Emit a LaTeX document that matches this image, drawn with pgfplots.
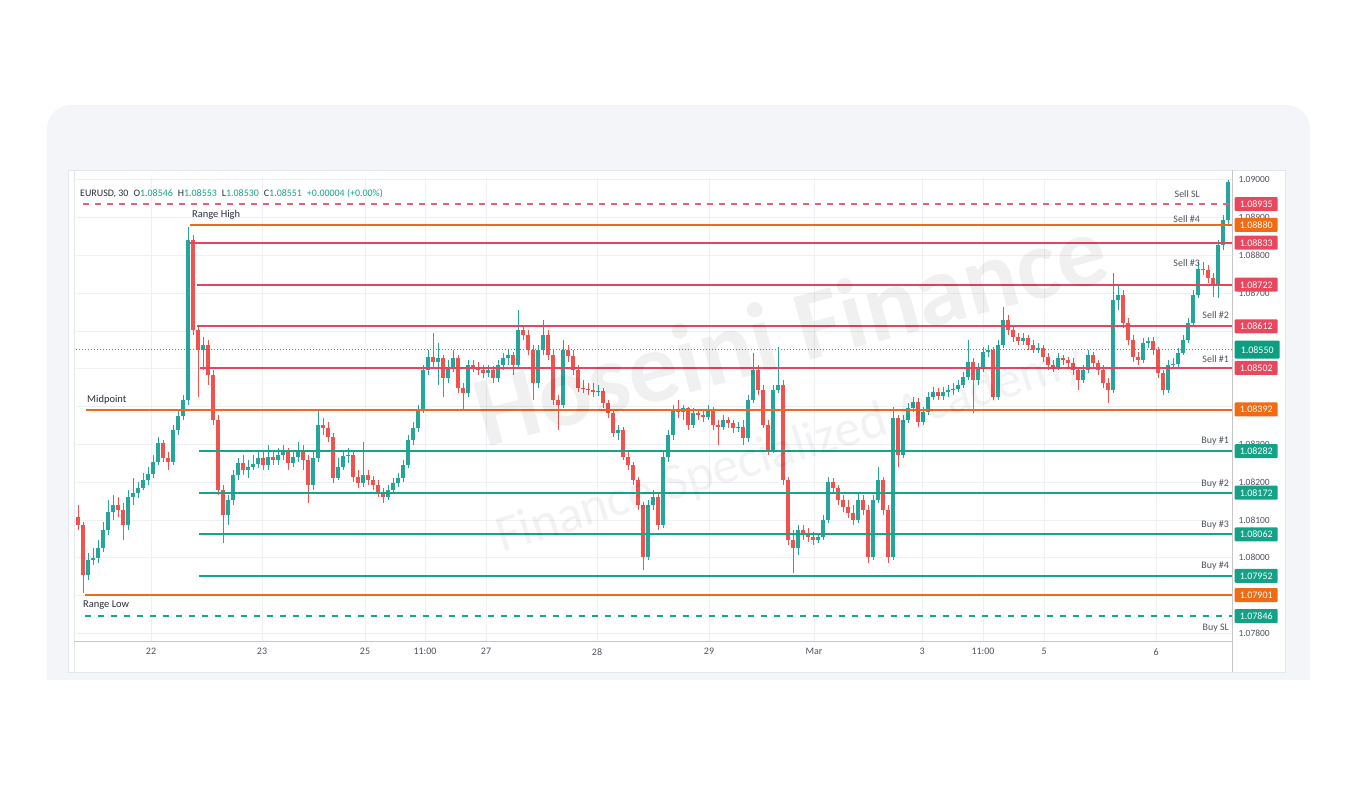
\documentclass[border=0pt]{standalone}
\usepackage{fontspec}
\setmainfont{Carlito}
\usepackage{pgfplots}
\pgfplotsset{compat=1.18}
\usepackage{pgfplotstable}
\definecolor{upc}{HTML}{26A69A}
\definecolor{dnc}{HTML}{EF5350}
\definecolor{lred}{HTML}{E4465E}
\definecolor{lorange}{HTML}{EE6A1A}
\definecolor{lteal}{HTML}{17A489}
\definecolor{bred}{HTML}{E9475E}
\definecolor{borange}{HTML}{F26B12}
\definecolor{bteal}{HTML}{14A286}
\definecolor{bcur}{HTML}{0C9E80}
\definecolor{panel}{HTML}{F3F5F8}
\definecolor{cardline}{HTML}{E3E6EC}
\definecolor{gridc}{HTML}{EEF0F4}
\definecolor{txt}{HTML}{2A2E39}
\definecolor{ticktxt}{HTML}{50535E}
\definecolor{hdr}{HTML}{17A489}

\pgfplotstableread{
t o h l c
0 1.08108 1.08140 1.08073 1.08087
1 1.08087 1.08095 1.07907 1.07955
2 1.07955 1.08013 1.07941 1.07994
3 1.07994 1.08026 1.07981 1.07999
4 1.07999 1.08047 1.07986 1.08026
5 1.08026 1.08095 1.08015 1.08073
6 1.08073 1.08153 1.08060 1.08121
7 1.08121 1.08166 1.08100 1.08140
8 1.08140 1.08161 1.08108 1.08126
9 1.08126 1.08145 1.08047 1.08087
10 1.08087 1.08179 1.08073 1.08161
11 1.08161 1.08211 1.08140 1.08171
12 1.08171 1.08200 1.08158 1.08185
13 1.08185 1.08224 1.08179 1.08206
14 1.08206 1.08240 1.08192 1.08222
15 1.08222 1.08272 1.08211 1.08253
16 1.08253 1.08320 1.08245 1.08304
17 1.08304 1.08311 1.08253 1.08264
18 1.08264 1.08280 1.08232 1.08253
19 1.08253 1.08351 1.08245 1.08338
20 1.08338 1.08391 1.08325 1.08375
21 1.08375 1.08430 1.08364 1.08417
22 1.08417 1.08874 1.08404 1.08840
23 1.08840 1.08853 1.08589 1.08602
24 1.08602 1.08615 1.08425 1.08549
25 1.08549 1.08584 1.08496 1.08563
26 1.08563 1.08576 1.08457 1.08483
27 1.08483 1.08496 1.08351 1.08364
28 1.08364 1.08378 1.08166 1.08179
29 1.08179 1.08192 1.08039 1.08113
30 1.08113 1.08166 1.08087 1.08153
31 1.08153 1.08232 1.08140 1.08219
32 1.08219 1.08264 1.08206 1.08251
33 1.08251 1.08272 1.08219 1.08232
34 1.08232 1.08258 1.08211 1.08240
35 1.08240 1.08272 1.08232 1.08248
36 1.08248 1.08280 1.08237 1.08264
37 1.08264 1.08285 1.08232 1.08245
38 1.08245 1.08298 1.08232 1.08266
39 1.08266 1.08285 1.08245 1.08258
40 1.08258 1.08290 1.08245 1.08272
41 1.08272 1.08298 1.08258 1.08280
42 1.08280 1.08290 1.08232 1.08251
43 1.08251 1.08285 1.08240 1.08266
44 1.08266 1.08306 1.08253 1.08285
45 1.08285 1.08298 1.08232 1.08258
46 1.08258 1.08272 1.08145 1.08192
47 1.08192 1.08280 1.08179 1.08264
48 1.08264 1.08391 1.08253 1.08351
49 1.08351 1.08370 1.08325 1.08343
50 1.08343 1.08359 1.08306 1.08320
51 1.08320 1.08330 1.08198 1.08211
52 1.08211 1.08264 1.08206 1.08240
53 1.08240 1.08285 1.08232 1.08269
54 1.08269 1.08290 1.08251 1.08272
55 1.08272 1.08285 1.08200 1.08214
56 1.08214 1.08232 1.08185 1.08198
57 1.08198 1.08306 1.08187 1.08219
58 1.08219 1.08232 1.08192 1.08206
59 1.08206 1.08216 1.08179 1.08192
60 1.08192 1.08206 1.08161 1.08171
61 1.08171 1.08185 1.08145 1.08161
62 1.08161 1.08192 1.08153 1.08179
63 1.08179 1.08211 1.08171 1.08198
64 1.08198 1.08224 1.08187 1.08211
65 1.08211 1.08258 1.08200 1.08245
66 1.08245 1.08325 1.08237 1.08311
67 1.08311 1.08359 1.08298 1.08343
68 1.08343 1.08404 1.08333 1.08391
69 1.08391 1.08510 1.08383 1.08496
70 1.08496 1.08549 1.08483 1.08531
71 1.08531 1.08594 1.08504 1.08518
72 1.08518 1.08568 1.08457 1.08528
73 1.08528 1.08536 1.08425 1.08475
74 1.08475 1.08523 1.08462 1.08504
75 1.08504 1.08549 1.08491 1.08528
76 1.08528 1.08536 1.08436 1.08449
77 1.08449 1.08462 1.08391 1.08436
78 1.08436 1.08523 1.08425 1.08510
79 1.08510 1.08523 1.08491 1.08504
80 1.08504 1.08518 1.08483 1.08496
81 1.08496 1.08510 1.08475 1.08488
82 1.08488 1.08510 1.08478 1.08496
83 1.08496 1.08507 1.08462 1.08475
84 1.08475 1.08523 1.08465 1.08510
85 1.08510 1.08541 1.08496 1.08528
86 1.08528 1.08549 1.08510 1.08536
87 1.08536 1.08544 1.08483 1.08510
88 1.08510 1.08655 1.08502 1.08602
89 1.08602 1.08615 1.08576 1.08589
90 1.08589 1.08602 1.08536 1.08549
91 1.08549 1.08563 1.08417 1.08462
92 1.08462 1.08563 1.08449 1.08549
93 1.08549 1.08628 1.08536 1.08589
94 1.08589 1.08602 1.08523 1.08536
95 1.08536 1.08549 1.08404 1.08417
96 1.08417 1.08430 1.08338 1.08404
97 1.08404 1.08576 1.08396 1.08549
98 1.08549 1.08563 1.08518 1.08534
99 1.08534 1.08549 1.08483 1.08496
100 1.08496 1.08510 1.08438 1.08449
101 1.08449 1.08470 1.08436 1.08447
102 1.08447 1.08462 1.08430 1.08443
103 1.08443 1.08462 1.08425 1.08438
104 1.08438 1.08457 1.08428 1.08441
105 1.08441 1.08449 1.08396 1.08409
106 1.08409 1.08417 1.08370 1.08383
107 1.08383 1.08391 1.08320 1.08330
108 1.08330 1.08351 1.08311 1.08338
109 1.08338 1.08346 1.08258 1.08266
110 1.08266 1.08280 1.08232 1.08245
111 1.08245 1.08253 1.08192 1.08206
112 1.08206 1.08214 1.08126 1.08140
113 1.08140 1.08147 1.07968 1.08002
114 1.08002 1.08153 1.07994 1.08140
115 1.08140 1.08179 1.08126 1.08161
116 1.08161 1.08171 1.08073 1.08087
117 1.08087 1.08285 1.08079 1.08266
118 1.08266 1.08338 1.08253 1.08325
119 1.08325 1.08404 1.08311 1.08391
120 1.08391 1.08417 1.08370 1.08385
121 1.08385 1.08404 1.08364 1.08396
122 1.08396 1.08399 1.08338 1.08351
123 1.08351 1.08396 1.08343 1.08383
124 1.08383 1.08391 1.08364 1.08378
125 1.08378 1.08391 1.08359 1.08372
126 1.08372 1.08404 1.08364 1.08391
127 1.08391 1.08399 1.08338 1.08351
128 1.08351 1.08364 1.08298 1.08346
129 1.08346 1.08378 1.08338 1.08364
130 1.08364 1.08372 1.08343 1.08356
131 1.08356 1.08364 1.08330 1.08343
132 1.08343 1.08359 1.08333 1.08346
133 1.08346 1.08364 1.08298 1.08317
134 1.08317 1.08430 1.08306 1.08417
135 1.08417 1.08541 1.08409 1.08496
136 1.08496 1.08510 1.08430 1.08443
137 1.08443 1.08457 1.08343 1.08351
138 1.08351 1.08364 1.08272 1.08285
139 1.08285 1.08457 1.08277 1.08443
140 1.08443 1.08558 1.08436 1.08457
141 1.08457 1.08470 1.08192 1.08206
142 1.08206 1.08214 1.08034 1.08047
143 1.08047 1.08073 1.07960 1.08026
144 1.08026 1.08087 1.08007 1.08073
145 1.08073 1.08087 1.08047 1.08066
146 1.08066 1.08079 1.08042 1.08055
147 1.08055 1.08068 1.08034 1.08047
148 1.08047 1.08066 1.08039 1.08055
149 1.08055 1.08113 1.08047 1.08100
150 1.08100 1.08214 1.08092 1.08200
151 1.08200 1.08211 1.08174 1.08185
152 1.08185 1.08192 1.08140 1.08153
153 1.08153 1.08166 1.08121 1.08134
154 1.08134 1.08153 1.08105 1.08118
155 1.08118 1.08140 1.08087 1.08100
156 1.08100 1.08171 1.08092 1.08153
157 1.08153 1.08166 1.08113 1.08126
158 1.08126 1.08140 1.07986 1.08002
159 1.08002 1.08166 1.07994 1.08153
160 1.08153 1.08240 1.08145 1.08206
161 1.08206 1.08214 1.08113 1.08126
162 1.08126 1.08140 1.07986 1.08002
163 1.08002 1.08399 1.07994 1.08370
164 1.08370 1.08378 1.08240 1.08272
165 1.08272 1.08378 1.08264 1.08364
166 1.08364 1.08409 1.08356 1.08396
167 1.08396 1.08425 1.08385 1.08412
168 1.08412 1.08422 1.08346 1.08359
169 1.08359 1.08399 1.08351 1.08385
170 1.08385 1.08438 1.08378 1.08425
171 1.08425 1.08452 1.08417 1.08438
172 1.08438 1.08449 1.08417 1.08428
173 1.08428 1.08452 1.08417 1.08438
174 1.08438 1.08457 1.08425 1.08443
175 1.08443 1.08462 1.08430 1.08447
176 1.08447 1.08470 1.08438 1.08457
177 1.08457 1.08491 1.08449 1.08478
178 1.08478 1.08576 1.08470 1.08518
179 1.08518 1.08528 1.08383 1.08470
180 1.08470 1.08515 1.08457 1.08502
181 1.08502 1.08558 1.08491 1.08544
182 1.08544 1.08563 1.08531 1.08549
183 1.08549 1.08558 1.08417 1.08425
184 1.08425 1.08576 1.08417 1.08563
185 1.08563 1.08663 1.08555 1.08628
186 1.08628 1.08642 1.08589 1.08602
187 1.08602 1.08615 1.08570 1.08584
188 1.08584 1.08594 1.08563 1.08573
189 1.08573 1.08594 1.08563 1.08581
190 1.08581 1.08589 1.08549 1.08563
191 1.08563 1.08576 1.08541 1.08549
192 1.08549 1.08568 1.08541 1.08555
193 1.08555 1.08563 1.08518 1.08531
194 1.08531 1.08541 1.08496 1.08510
195 1.08510 1.08523 1.08491 1.08504
196 1.08504 1.08541 1.08496 1.08528
197 1.08528 1.08536 1.08510 1.08523
198 1.08523 1.08531 1.08502 1.08515
199 1.08515 1.08528 1.08483 1.08496
200 1.08496 1.08504 1.08443 1.08470
201 1.08470 1.08510 1.08462 1.08496
202 1.08496 1.08549 1.08488 1.08536
203 1.08536 1.08544 1.08502 1.08515
204 1.08515 1.08523 1.08483 1.08496
205 1.08496 1.08510 1.08449 1.08462
206 1.08462 1.08475 1.08409 1.08443
207 1.08443 1.08753 1.08436 1.08681
208 1.08681 1.08722 1.08655 1.08695
209 1.08695 1.08708 1.08607 1.08621
210 1.08621 1.08634 1.08563 1.08576
211 1.08576 1.08589 1.08518 1.08531
212 1.08531 1.08544 1.08510 1.08523
213 1.08523 1.08581 1.08515 1.08568
214 1.08568 1.08584 1.08555 1.08573
215 1.08573 1.08584 1.08536 1.08549
216 1.08549 1.08558 1.08475 1.08488
217 1.08488 1.08496 1.08430 1.08443
218 1.08443 1.08523 1.08436 1.08510
219 1.08510 1.08528 1.08502 1.08512
220 1.08512 1.08555 1.08504 1.08541
221 1.08541 1.08589 1.08536 1.08576
222 1.08576 1.08634 1.08568 1.08621
223 1.08621 1.08708 1.08610 1.08695
224 1.08695 1.08782 1.08687 1.08763
225 1.08763 1.08782 1.08747 1.08761
226 1.08761 1.08774 1.08726 1.08740
227 1.08740 1.08753 1.08690 1.08722
228 1.08722 1.08840 1.08687 1.08827
229 1.08827 1.08906 1.08813 1.08893
230 1.08893 1.08999 1.08880 1.08993
}\candles

\begin{document}
\begin{tikzpicture}[x=1bp,y=1bp]
\fill[white] (0,0) rectangle (1357,785);
\fill[panel,rounded corners=24bp] (47,40) rectangle (1310,680);
\fill[white] (0,0) rectangle (1357,105);
\filldraw[fill=white,draw=cardline,line width=0.6bp] (68,113) rectangle (1285,615);
\draw[cardline,line width=0.6bp] (74,113) -- (74,615);
\draw[gray!45,line width=0.8bp] (74,144) -- (1232,144);
\draw[gray!45,line width=0.8bp] (1232,113) -- (1232,615);

\begin{axis}[
  at={(76bp,144bp)}, anchor=south west,
  width=1156bp, height=463bp, scale only axis,
  xmin=-0.4, xmax=230.8, ymin=1.07780, ymax=1.09004,
  axis line style={draw=none},
  major tick length=0pt,
  clip=false,
  grid=major,
  major grid style={draw=gridc,line width=0.6bp},
  scaled y ticks=false,
  ytick={1.078,1.079,1.080,1.081,1.082,1.083,1.084,1.085,1.086,1.087,1.088,1.089,1.090},
  yticklabels={1.07800,,1.08000,1.08100,1.08200,1.08300,,,,1.08700,1.08800,1.08900,1.09000},
  yticklabel pos=right,
  yticklabel style={font=\fontsize{9.5}{9.5}\selectfont, text=ticktxt, xshift=3bp},
  xtick={14.6,36.8,57.4,69.4,81.6,103.8,126.2,147.2,168.8,181,193.2,215.6},
  xticklabels={22,23,25,11:00,27,28,29,Mar,3,11:00,5,6},
  xticklabel style={font=\fontsize{10}{10}\selectfont, text=ticktxt, yshift=-4bp},
]
% wicks
\addplot[draw=none, mark=none, forget plot,
  restrict expr to domain={\thisrow{c}-\thisrow{o}}{0:1},
  error bars/.cd, y dir=plus, y explicit, error mark=none,
  error bar style={draw=upc, line width=0.8bp}]
  table[x=t, y=l, y error plus expr=\thisrow{h}-\thisrow{l}] {\candles};
\addplot[draw=none, mark=none, forget plot,
  restrict expr to domain={\thisrow{c}-\thisrow{o}}{-1:-0.0000001},
  error bars/.cd, y dir=plus, y explicit, error mark=none,
  error bar style={draw=dnc, line width=0.8bp}]
  table[x=t, y=l, y error plus expr=\thisrow{h}-\thisrow{l}] {\candles};
% bodies
\addplot[draw=none, mark=none, forget plot,
  restrict expr to domain={\thisrow{c}-\thisrow{o}}{0:1},
  error bars/.cd, y dir=plus, y explicit, error mark=none,
  error bar style={draw=upc, line width=3.2bp}]
  table[x=t, y=o, y error plus expr={max(\thisrow{c}-\thisrow{o},0.00002)}] {\candles};
\addplot[draw=none, mark=none, forget plot,
  restrict expr to domain={\thisrow{c}-\thisrow{o}}{-1:-0.0000001},
  error bars/.cd, y dir=plus, y explicit, error mark=none,
  error bar style={draw=dnc, line width=3.2bp}]
  table[x=t, y=c, y error plus expr=\thisrow{o}-\thisrow{c}] {\candles};

% levels
\addplot[lred!85, line width=1.6bp, dash pattern=on 6bp off 6bp] coordinates {(1,1.08935) (230.8,1.08935)};
\addplot[lorange, line width=2.1bp] coordinates {(22.4,1.08880) (230.8,1.08880)};
\addplot[lred, line width=2.1bp] coordinates {(22.4,1.08833) (230.8,1.08833)};
\addplot[lred, line width=2.1bp] coordinates {(23.8,1.08722) (230.8,1.08722)};
\addplot[lred, line width=2.1bp] coordinates {(23.8,1.08612) (230.8,1.08612)};
\addplot[lteal, line width=0.8bp, dash pattern=on 1bp off 2bp] coordinates {(-0.4,1.08550) (230.8,1.08550)};
\addplot[lred, line width=2.1bp] coordinates {(24.4,1.08502) (230.8,1.08502)};
\addplot[lorange, line width=2.1bp] coordinates {(1.6,1.08390) (230.8,1.08390)};
\addplot[lteal, line width=2.1bp] coordinates {(24.2,1.08282) (230.8,1.08282)};
\addplot[lteal, line width=2.1bp] coordinates {(24.2,1.08172) (230.8,1.08172)};
\addplot[lteal, line width=2.1bp] coordinates {(24.2,1.08062) (230.8,1.08062)};
\addplot[lteal, line width=2.1bp] coordinates {(24.2,1.07952) (230.8,1.07952)};
\addplot[lorange, line width=2.1bp] coordinates {(1.4,1.07901) (230.8,1.07901)};
\addplot[lteal, line width=1.6bp, dash pattern=on 6bp off 7bp] coordinates {(1.4,1.07846) (230.8,1.07846)};

% level names
\node[anchor=west, font=\fontsize{10.5}{10.5}\selectfont, text=txt, inner sep=0] at (axis cs:22.8,1.08906) {Range High};
\node[anchor=west, font=\fontsize{10.5}{10.5}\selectfont, text=txt, inner sep=0] at (axis cs:1.8,1.08417) {Midpoint};
\node[anchor=west, font=\fontsize{10.5}{10.5}\selectfont, text=txt, inner sep=0] at (axis cs:1.0,1.07875) {Range Low};
\node[anchor=east, font=\fontsize{10}{10}\selectfont, text=ticktxt, inner sep=0] at (axis cs:224.4,1.08961) {Sell SL};
\node[anchor=east, font=\fontsize{10}{10}\selectfont, text=ticktxt, inner sep=0] at (axis cs:224.4,1.08896) {Sell \#4};
\node[anchor=east, font=\fontsize{10}{10}\selectfont, text=ticktxt, inner sep=0] at (axis cs:224.4,1.08780) {Sell \#3};
\node[anchor=east, font=\fontsize{10}{10}\selectfont, text=ticktxt, inner sep=0] at (axis cs:230.2,1.08642) {Sell \#2};
\node[anchor=east, font=\fontsize{10}{10}\selectfont, text=ticktxt, inner sep=0] at (axis cs:230.2,1.08525) {Sell \#1};
\node[anchor=east, font=\fontsize{10}{10}\selectfont, text=ticktxt, inner sep=0] at (axis cs:230.2,1.08309) {Buy \#1};
\node[anchor=east, font=\fontsize{10}{10}\selectfont, text=ticktxt, inner sep=0] at (axis cs:230.2,1.08195) {Buy \#2};
\node[anchor=east, font=\fontsize{10}{10}\selectfont, text=ticktxt, inner sep=0] at (axis cs:230.2,1.08087) {Buy \#3};
\node[anchor=east, font=\fontsize{10}{10}\selectfont, text=ticktxt, inner sep=0] at (axis cs:230.2,1.07979) {Buy \#4};
\node[anchor=east, font=\fontsize{10}{10}\selectfont, text=ticktxt, inner sep=0] at (axis cs:230.2,1.07815) {Buy SL};

% price boxes
\tikzset{pb/.style={anchor=west, xshift=2.5bp, text=white, minimum width=43bp, minimum height=14bp, inner sep=0, rounded corners=1bp, font=\fontsize{10}{10}\selectfont}}
\node[pb, fill=bred] at (axis cs:230.8,1.08935) {1.08935};
\node[pb, fill=borange] at (axis cs:230.8,1.08880) {1.08880};
\node[pb, fill=bred] at (axis cs:230.8,1.08833) {1.08833};
\node[pb, fill=bred] at (axis cs:230.8,1.08722) {1.08722};
\node[pb, fill=bred] at (axis cs:230.8,1.08612) {1.08612};
\node[pb, fill=bcur, minimum height=18bp, minimum width=45bp] at (axis cs:230.8,1.08550) {1.08550};
\node[pb, fill=bred] at (axis cs:230.8,1.08502) {1.08502};
\node[pb, fill=borange] at (axis cs:230.8,1.08392) {1.08392};
\node[pb, fill=bteal] at (axis cs:230.8,1.08282) {1.08282};
\node[pb, fill=bteal] at (axis cs:230.8,1.08172) {1.08172};
\node[pb, fill=bteal] at (axis cs:230.8,1.08062) {1.08062};
\node[pb, fill=bteal] at (axis cs:230.8,1.07952) {1.07952};
\node[pb, fill=borange] at (axis cs:230.8,1.07901) {1.07901};
\node[pb, fill=bteal] at (axis cs:230.8,1.07846) {1.07846};
\end{axis}

% header
\node[anchor=west, inner sep=0, font=\fontsize{10}{10}\selectfont, text=txt] at (80,591)
 {EURUSD, 30\hspace{5pt}O\textcolor{hdr}{1.08546}\hspace{5pt}H\textcolor{hdr}{1.08553}\hspace{5pt}L\textcolor{hdr}{1.08530}\hspace{5pt}C\textcolor{hdr}{1.08551}\hspace{5pt}\textcolor{hdr}{+0.00004 (+0.00\%)}};

% watermark
\node[rotate=15, opacity=0.06, text=black, font=\fontsize{100}{100}\selectfont\bfseries] at (790,455) {Hoseini Finance};
\node[rotate=17, opacity=0.05, text=black, font=\fontsize{52}{52}\selectfont] at (790,335) {Finance Specialized Academy};
\end{tikzpicture}
\end{document}
